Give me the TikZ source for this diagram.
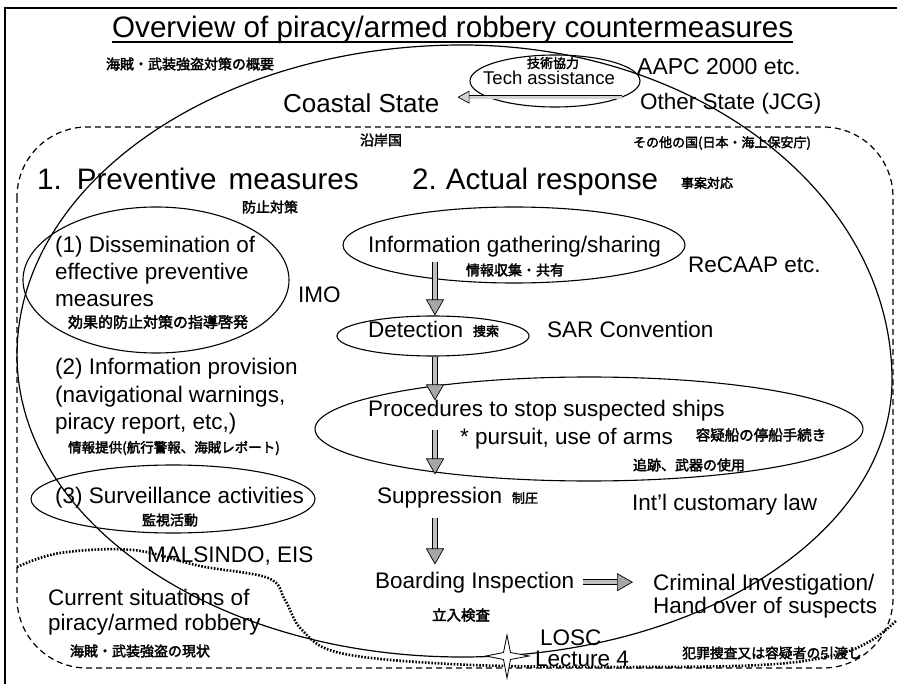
\documentclass[tikz,border=0pt]{standalone}
\usepackage{fontspec}
\setmainfont{Liberation Sans}
\newfontfamily\jp{Noto Sans CJK JP}[FakeBold=2.5]
\usetikzlibrary{shapes.geometric,arrows.meta}
\newcommand\fsl[2]{\fontsize{#1}{#2}\selectfont}
\newcommand\rowsof[1]{\vtop{\halign{##\hfil\cr#1\crcr}}}
\begin{document}
\begin{tikzpicture}[x=1pt,y=-1pt,
  txt/.style={inner sep=0pt, anchor=base west, font=\fsl{22.5}{27}},
  jpt/.style={inner sep=0pt, font=\jp\fsl{14}{16}},
  oval/.style={draw, ellipse, line width=1.1pt, inner sep=0pt},
  blockarr/.style={draw=black, line width=0.7pt, double=gray!50, double distance=4.5pt,
    -{Triangle[length=16pt,width=18pt,fill=gray!70]}},
  techarr/.style={draw=black, line width=0.7pt, double=gray!35, double distance=3pt,
    -{Triangle[length=12pt,width=13pt,fill=gray!35]}},
  bigline/.style={line width=1.2pt},
  dashline/.style={line width=1.2pt, dash pattern=on 6pt off 4pt},
  dotline/.style={line width=2.6pt, dash pattern=on 1.6pt off 1.6pt}]
\useasboundingbox (0,0) rectangle (897,684);
% frame
\draw[line width=1.5pt] (4,8) -- (897,8);
\draw[line width=2.5pt] (5,8) -- (5,684);
% big coastal-state loop
\draw[bigline] (462,45) .. controls (699.5,45) and (892,195) .. (892,380)
  .. controls (892,533) and (699.5,657) .. (462,657)
  .. controls (216.2,657) and (17,521.8) .. (17,355)
  .. controls (17,183.8) and (216.2,45) .. cycle;
% dashed region
\draw[dashline, rounded corners=70pt] (17,127) rectangle (893,668);
% dotted region
\draw[dotline] plot[smooth, tension=0.6] coordinates {(17,567) (60,553) (133,550) (200,566) (268,578) (285,600) (302,630) (340,653) (450,664) (600,667) (760,665) (835,655) (872,640) (897,620)};
% title
\node[txt, font=\fsl{29.6}{34}] (title) at (112,38) {Overview of piracy/armed robbery countermeasures};
\draw[line width=1.5pt] ([yshift=-4pt]title.base west) -- ([yshift=-4pt]title.base east);
\node[jpt] (jtitle) at (190,64) {海賊・武装強盗対策の概要};
% top states
\node[txt, font=\fsl{26}{30}] (coastal) at (283,113) {Coastal State};
\node[oval, minimum width=170pt, minimum height=52pt] (techell) at (555,81) {};
\node[jpt, font=\jp\fsl{13}{15}] (jtech) at (553,63) {技術協力};
\node[txt, font=\fsl{18.5}{22}] (tech) at (483,85) {Tech assistance};
\node[txt, font=\fsl{23}{27}] (aapc) at (637,75) {AAPC 2000 etc.};
\node[txt] (other) at (640,110) {Other State (JCG)};
\draw[techarr, shorten <=18pt, shorten >=18pt] ([yshift=7pt]other.west) -- ([yshift=7pt]other.west -| coastal.east);
\node[jpt] (jcoastal) at (381,140) {沿岸国};
\node[jpt, font=\jp\fsl{13}{15}] (jother) at (722,143) {その他の国(日本・海上保安庁)};
% headings
\node[txt, font=\fsl{29.6}{34}] (prev) at (37,190) {1.\hspace{15pt}Preventive\hspace{12pt}measures};
\node[txt, font=\fsl{29.6}{34}] (actual) at (412,190) {2.\hspace{9pt}Actual response};
\node[jpt] (jprev) at (270,207) {防止対策};
\node[jpt, font=\jp\fsl{13}{15}] (jactual) at (707,183) {事案対応};
% left column
\node[oval, minimum width=266pt, minimum height=146pt] (ell1) at (156,280) {};
\node[txt] (t1) at (55,253) {\rowsof{(1) Dissemination of\cr effective preventive\cr measures}};
\node[jpt, font=\jp\fsl{15}{17}] (j1) at (158,322) {効果的防止対策の指導啓発};
\node[txt] (imo) at (298,303) {IMO};
\node[txt, font=\fsl{22.5}{27.5}] (t2) at (55,375) {\rowsof{(2) Information provision\cr (navigational warnings,\cr piracy report, etc,)}};
\node[jpt, font=\jp\fsl{13.5}{15}] (j2) at (174,448) {情報提供(航行警報、海賊レポート)};
\node[oval, minimum width=284pt, minimum height=68pt] (ell3) at (173,499) {};
\node[txt] (t3) at (55,503) {(3) Surveillance activities};
\node[jpt] (j3) at (170,520) {監視活動};
\node[txt] (mals) at (147,562) {MALSINDO, EIS};
\node[txt, font=\fsl{22.5}{25}] (cur) at (48,605) {\rowsof{Current situations of\cr piracy/armed robbery}};
\node[jpt] (jcur) at (140,651) {海賊・武装強盗の現状};
% right column
\coordinate (ax) at (435,0);
\node[oval, minimum width=342pt, minimum height=76pt] (infoell) at (514,245) {};
\node[txt] (info) at (368,253) {Information gathering/sharing};
\node[jpt] (jinfo) at (515,270) {情報収集・共有};
\node[txt] (recaap) at (688,273) {ReCAAP etc.};
\node[oval, minimum width=192pt, minimum height=40pt] (detell) at (433,336) {};
\node[txt] (det) at (368,338) {Detection};
\node[jpt, font=\jp\fsl{13}{15}] (jdet) at (486,331) {捜索};
\node[txt] (sar) at (547,338) {SAR Convention};
\node[oval, minimum width=548pt, minimum height=104pt] (procell) at (589,429) {};
\node[txt] (proc) at (368,417) {Procedures to stop suspected ships};
\node[txt] (purs) at (460,445) {* pursuit, use of arms};
\node[jpt, font=\jp\fsl{14.5}{16}] (jproc) at (761,435) {容疑船の停船手続き};
\node[jpt] (jpurs) at (689,465) {追跡、武器の使用};
\node[txt] (sup) at (377,503) {Suppression};
\node[jpt, font=\jp\fsl{13}{15}] (jsup) at (525,498) {制圧};
\node[txt] (intl) at (632,510) {Int'l customary law};
\node[txt] (board) at (375,588) {Boarding Inspection};
\node[jpt, font=\jp\fsl{14.5}{16}] (jboard) at (461,615) {立入検査};
\node[txt, font=\fsl{22.5}{23}] (crim) at (653,590) {\rowsof{Criminal Investigation/\cr Hand over of suspects}};
\node[jpt, font=\jp\fsl{13.8}{16}] (jcrim) at (772,653) {犯罪捜査又は容疑者の引渡し};
% star
\draw[fill=white, line width=0.8pt] (507,635) -- (510.5,652.5) -- (529,656) -- (510.5,659.5) -- (507,678) -- (503.5,659.5) -- (486,656) -- (503.5,652.5) -- cycle;
\node[txt] (losc) at (540,645) {LOSC};
\node[txt] (lect) at (535,666) {Lecture 4};
% flow arrows
\draw[blockarr, shorten <=4pt] (ax |- info.south) -- (ax |- detell.north);
\draw[blockarr] (ax |- detell.south) -- (ax |- proc.north);
\draw[blockarr, shorten <=8pt, shorten >=12pt] (ax |- proc.south) -- (ax |- sup.north);
\draw[blockarr, shorten <=10pt, shorten >=7pt] (ax |- sup.south) -- (ax |- board.north);
\draw[blockarr, shorten <=9pt, shorten >=20pt] (board.east) -- (board.east -| crim.west);
\end{tikzpicture}
\end{document}
